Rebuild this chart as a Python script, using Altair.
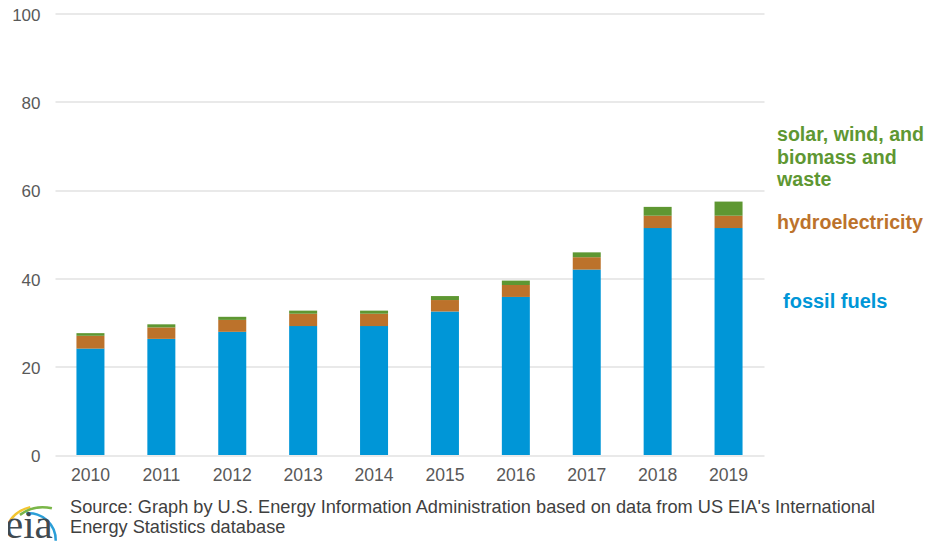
import altair as alt
import pandas as pd

years = ["2010", "2011", "2012", "2013", "2014", "2015", "2016", "2017", "2018", "2019"]
fossil = [24.1, 26.3, 27.9, 29.2, 29.2, 32.5, 35.8, 42.0, 51.4, 51.4]
hydro = [2.9, 2.6, 2.7, 2.8, 2.8, 2.6, 2.7, 2.8, 2.8, 2.8]
other = [0.6, 0.7, 0.7, 0.7, 0.7, 0.9, 1.0, 1.1, 2.0, 3.2]
series = ["fossil fuels", "hydroelectricity", "solar, wind, and biomass and waste"]
colors = ["#0096D7", "#BC722B", "#5E9732"]
y_ticks = [0, 20, 40, 60, 80, 100]

FONT = "Liberation Sans"
GRAY = "#595959"
OX, OY = 55, 13.5  # plot origin on the page-picture

rows = []
for i, y in enumerate(years):
    for k, (s, v) in enumerate(zip(series, (fossil[i], hydro[i], other[i]))):
        rows.append({"year": y, "series": s, "value": v, "k": k})
df = pd.DataFrame(rows)

bars = alt.Chart(df).mark_bar(size=28).encode(
    x=alt.X("year:N", sort=years, title=None,
            scale=alt.Scale(paddingInner=0.6, paddingOuter=0.3),
            axis=alt.Axis(labelAngle=0, labelFont=FONT, labelFontSize=17.6, labelColor=GRAY,
                          labelPadding=11, ticks=False, domain=False, grid=False)),
    y=alt.Y("value:Q", stack="zero", title=None,
            scale=alt.Scale(domain=[0, 100], nice=False),
            axis=alt.Axis(values=y_ticks, labelFont=FONT, labelFontSize=17, labelColor=GRAY,
                          labelPadding=15, labelOffset=1.8, ticks=False, domain=False, grid=True,
                          gridColor="#E2E2E2", gridWidth=1.3)),
    color=alt.Color("series:N", sort=series, legend=None,
                    scale=alt.Scale(domain=series, range=colors)),
    order=alt.Order("k:Q"),
)


def label(text, x, y, color, size, weight="normal", font=FONT, baseline="middle"):
    return alt.Chart(pd.DataFrame({"t": [text]})).mark_text(
        align="left", baseline=baseline, font=font, fontSize=size, fontWeight=weight, color=color
    ).encode(text="t:N", x=alt.value(x - OX), y=alt.value(y - OY))


def arc(cx, cy, r, t0, t1, color, w):
    return alt.Chart(pd.DataFrame({"a": [0]})).mark_arc(
        theta=t0, theta2=t1, radius=r, radius2=r - w, color=color
    ).encode(x=alt.value(cx - OX), y=alt.value(cy - OY))


texts = [
    label("solar, wind, and", 777, 135, colors[2], 19.6, "bold"),
    label("biomass and", 777, 158, colors[2], 19.6, "bold"),
    label("waste", 777, 180, colors[2], 19.6, "bold"),
    label("hydroelectricity", 777, 223, colors[1], 19.6, "bold"),
    label("fossil fuels", 783, 302, colors[0], 20, "bold"),
    label("Source: Graph by U.S. Energy Information Administration based on data from US EIA's International",
          70, 508, "#404040", 18.2),
    label("Energy Statistics database", 70, 528, "#404040", 18.2),
    label("eia", 5, 538, "#3F4A50", 41, "normal", "Liberation Serif", "alphabetic"),
]
logo = [
    arc(38, 541, 36, 5.356, 6.059, "#F2C530", 2.5),
    arc(43, 546, 40, 5.645, 6.515, "#7AB648", 2.5),
    arc(29, 540, 28, 6.18, 7.88, "#2A9FD8", 2.5),
]
edge = alt.Chart(pd.DataFrame({"a": [0]})).mark_rule(color="#F0F0F0", size=1).encode(
    x=alt.value(2.5 - OX), y=alt.value(-OY), y2=alt.value(530)
)

chart = alt.layer(edge, bars, *logo, *texts).properties(
    width=709,
    height=441.5,
    autosize=alt.AutoSizeParams(type="none"),
    padding={"left": 47, "top": 5.5, "right": 161, "bottom": 88},
    background="white",
).configure_view(stroke=None)

chart.save("out.html", embed_options={"renderer": "svg", "actions": False})
